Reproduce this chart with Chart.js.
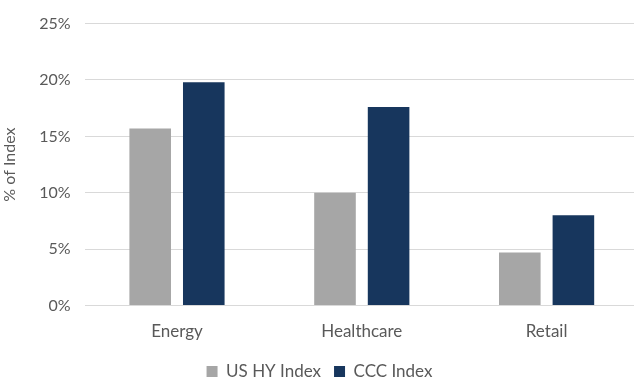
<!DOCTYPE html>
<html>
<head>
<meta charset="utf-8">
<script src="https://cdn.jsdelivr.net/npm/chart.js@4/dist/chart.umd.min.js"></script>
<style>
  html, body { margin: 0; padding: 0; background: #fff; overflow: hidden; }
  #wrap { position: relative; width: 640px; height: 390px; }
</style>
</head>
<body>
<div id="wrap"><canvas id="c"></canvas></div>
<script>
// Sector weights (% of index)
const categories = ['Energy', 'Healthcare', 'Retail'];
const usHyIndex = [15.7, 10.0, 4.7];
const cccIndex = [19.8, 17.6, 8.0];
const yTicks = [0, 5, 10, 15, 20, 25];

const textColor = '#595959';
const fontFamily = 'Lato, "Open Sans", sans-serif';

new Chart(document.getElementById('c'), {
  type: 'bar',
  data: {
    labels: categories,
    datasets: [
      { label: 'US HY Index', data: usHyIndex, backgroundColor: '#a6a6a6',
        categoryPercentage: 0.58, barPercentage: 0.776 },
      { label: 'CCC Index', data: cccIndex, backgroundColor: '#17365d',
        categoryPercentage: 0.58, barPercentage: 0.776 }
    ]
  },
  options: {
    responsive: true,
    maintainAspectRatio: false,
    animation: false,
    layout: { padding: { top: 4, right: 1, bottom: 0, left: 0 } },
    plugins: {
      legend: {
        position: 'bottom',
        labels: {
          color: textColor,
          font: { family: fontFamily, size: 17 },
          boxWidth: 11, boxHeight: 11, padding: 13
        }
      },
      tooltip: { enabled: false }
    },
    scales: {
      x: {
        grid: { display: false },
        border: { display: false },
        ticks: { color: textColor, font: { family: fontFamily, size: 17 }, padding: 8 }
      },
      y: {
        min: 0, max: 25,
        afterBuildTicks: (axis) => { axis.ticks = yTicks.map(v => ({ value: v })); },
        ticks: {
          color: textColor,
          font: { family: fontFamily, size: 16 },
          padding: 14,
          callback: (v) => v + '%'
        },
        grid: { color: '#d9d9d9', lineWidth: 1, drawTicks: false },
        border: { display: false },
        title: {
          display: true, text: '% of Index', color: textColor,
          font: { family: fontFamily, size: 16 }, padding: { top: 0, bottom: 6 }
        }
      }
    }
  }
});
</script>
</body>
</html>
